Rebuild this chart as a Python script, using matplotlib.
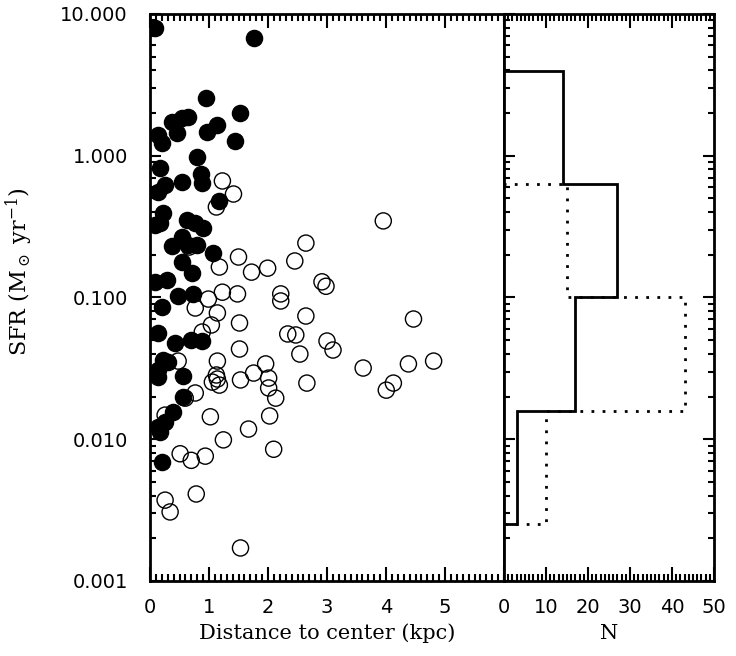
import numpy as np
import matplotlib
matplotlib.use('Agg')
import matplotlib.pyplot as plt
from matplotlib.ticker import MultipleLocator, LogLocator, FixedLocator, FixedFormatter, NullFormatter

# filled circles (inner sample): distance (kpc), SFR (Msun/yr)
dist_filled = [0.085, 1.756, 0.954, 1.517, 0.375, 0.545, 0.648, 0.136, 0.460, 0.205,
               0.972, 1.142, 1.449, 0.801, 0.170, 0.869, 0.545, 0.886, 0.256, 0.136,
               1.176, 0.222, 0.085, 0.170, 0.631, 0.767, 0.903, 0.545, 0.375, 0.648,
               0.801, 1.074, 0.545, 0.716, 0.085, 0.290, 0.477, 0.733, 0.205, 0.136,
               0.426, 0.699, 0.886, 0.222, 0.307, 0.136, 0.136, 0.562, 0.562, 0.392,
               0.256, 0.136, 0.170, 0.205]
sfr_filled = [7.96, 6.78, 2.55, 2.00, 1.73, 1.85, 1.87, 1.40, 1.45, 1.23,
              1.47, 1.65, 1.27, 0.98, 0.82, 0.74, 0.65, 0.64, 0.62, 0.555,
              0.48, 0.395, 0.324, 0.335, 0.352, 0.335, 0.309, 0.267, 0.231, 0.234,
              0.234, 0.206, 0.178, 0.149, 0.129, 0.133, 0.103, 0.106, 0.0857, 0.0562,
              0.0478, 0.0501, 0.0493, 0.0362, 0.0351, 0.0308, 0.0275, 0.0279, 0.0199, 0.0156,
              0.0132, 0.0122, 0.0112, 0.0069]

# open circles (outer sample)
dist_open = [1.227, 1.415, 1.125, 0.665, 2.642, 1.500, 1.176, 2.454, 1.721, 1.994,
             0.989, 1.227, 1.483, 2.216, 2.216, 0.767, 1.142, 2.642, 1.040, 1.517,
             0.886, 2.335, 2.471, 2.540, 1.517, 0.477, 1.142, 1.960, 1.756, 2.011,
             1.125, 1.057, 1.176, 1.142, 1.534, 2.659, 2.011, 2.131, 0.767, 0.597,
             0.256, 1.023, 2.028, 1.670, 1.244, 0.511, 0.699, 0.937, 2.096, 0.256,
             0.341, 0.784, 1.534, 3.954, 2.915, 2.983, 4.466, 3.000, 3.102, 3.613,
             4.380, 4.807, 4.125, 4.005]
sfr_open = [0.664, 0.537, 0.435, 0.227, 0.242, 0.193, 0.164, 0.181, 0.151, 0.161,
            0.0975, 0.109, 0.106, 0.106, 0.0945, 0.0843, 0.0778, 0.0740, 0.0640, 0.0661,
            0.0571, 0.0553, 0.0544, 0.0399, 0.0433, 0.0356, 0.0356, 0.0340, 0.0293, 0.0270,
            0.0284, 0.0253, 0.0241, 0.0266, 0.0262, 0.0249, 0.0230, 0.0195, 0.0212, 0.0195,
            0.0148, 0.0144, 0.0146, 0.0118, 0.0099, 0.0079, 0.0071, 0.0076, 0.0085, 0.00372,
            0.00307, 0.00411, 0.00171, 0.347, 0.129, 0.120, 0.0705, 0.0493, 0.0426, 0.0318,
            0.0340, 0.0356, 0.0249, 0.0222]

# histogram of log SFR
bin_edges_log = [-2.6, -1.8, -1.0, -0.2, 0.6]
n_filled = [3, 17, 27, 14]
n_open = [10, 43, 15]

y_ticks = [0.001, 0.01, 0.1, 1.0, 10.0]
y_labels = ['0.001', '0.010', '0.100', '1.000', '10.000']

plt.rcParams['font.family'] = 'DejaVu Sans'
plt.rcParams['mathtext.fontset'] = 'dejavuserif'

fig = plt.figure(figsize=(7.36, 6.56), dpi=100)
ax = fig.add_axes([150/736, 1-581/656, 354/736, 567/656])
axh = fig.add_axes([504/736, 1-581/656, 210/736, 567/656])

# scatter panel
ax.scatter(dist_open, sfr_open, s=135, facecolors='none', edgecolors='black', linewidths=1.0, zorder=2)
ax.scatter(dist_filled, sfr_filled, s=135, facecolors='black', edgecolors='black', linewidths=1.0, zorder=3)
ax.set_yscale('log')
ax.set_xlim(0, 6)
ax.set_ylim(0.001, 10)
ax.xaxis.set_major_locator(FixedLocator([0, 1, 2, 3, 4, 5]))
ax.xaxis.set_minor_locator(MultipleLocator(0.1))
ax.yaxis.set_major_locator(FixedLocator(y_ticks))
ax.yaxis.set_major_formatter(FixedFormatter(y_labels))
ax.yaxis.set_minor_locator(LogLocator(base=10, subs=np.arange(2, 10)))
ax.yaxis.set_minor_formatter(NullFormatter())
ax.tick_params(which='both', direction='in', top=True, right=False, width=1.5, labelsize=14)
ax.tick_params(axis='x', which='major', length=10, pad=12)
ax.tick_params(axis='x', which='minor', length=5)
ax.tick_params(axis='y', which='major', length=8, pad=16)
ax.tick_params(axis='y', which='minor', length=4)
ax.set_xlabel('Distance to center (kpc)', family='DejaVu Serif', fontsize=15, labelpad=5)
ax.set_ylabel(r'SFR (M$_\odot$ yr$^{-1}$)', family='DejaVu Serif', fontsize=16)
ax.yaxis.set_label_coords(-0.325, 0.545)

# histogram panel
edges = 10 ** np.array(bin_edges_log)
axh.stairs(n_filled, edges, orientation='horizontal', baseline=0, color='black', linewidth=2)
axh.stairs(n_open, edges[:4], orientation='horizontal', baseline=0, color='black',
           linewidth=2, linestyle=(0, (1, 3)))
axh.set_yscale('log')
axh.set_xlim(0, 50)
axh.set_ylim(0.001, 10)
axh.xaxis.set_major_locator(MultipleLocator(10))
axh.xaxis.set_minor_locator(MultipleLocator(1))
axh.yaxis.set_major_locator(FixedLocator(y_ticks))
axh.yaxis.set_minor_locator(LogLocator(base=10, subs=np.arange(2, 10)))
axh.yaxis.set_major_formatter(NullFormatter())
axh.yaxis.set_minor_formatter(NullFormatter())
axh.tick_params(which='both', direction='in', top=True, right=True, width=1.5, labelsize=14)
axh.tick_params(axis='x', which='major', length=10, pad=12)
axh.tick_params(axis='x', which='minor', length=5)
axh.tick_params(axis='y', which='major', length=8)
axh.tick_params(axis='y', which='minor', length=4)
axh.set_xlabel('N', family='DejaVu Serif', fontsize=15, labelpad=5)

for a in (ax, axh):
    for sp in a.spines.values():
        sp.set_linewidth(2)

fig.savefig('out.png', dpi=100)
